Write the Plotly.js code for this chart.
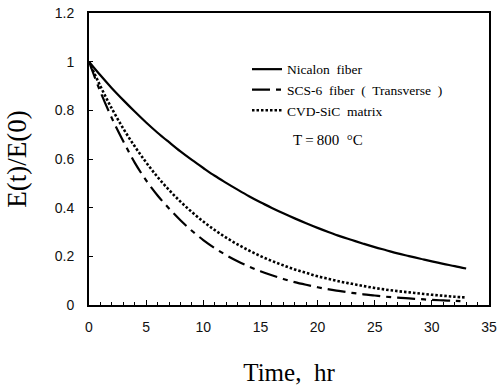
<!DOCTYPE html>
<html>
<head>
<meta charset="utf-8">
<script src="https://cdn.plot.ly/plotly-3.0.1.min.js"></script>
<style>html,body{margin:0;padding:0;background:#fff;}#chart{width:497px;height:387px;}</style>
</head>
<body>
<div id="chart"></div>
<script>
// Time (hr)
const timeHr = [0,1,2,3,4,5,6,7,8,9,10,11,12,13,14,15,16,17,18,19,20,21,22,23,24,25,26,27,28,29,30,31,32,33];
const timeDash = [0,1,2,3,4,5,6,7,8,9,10,11,12,13,14,15,16,17,18,19,20,21,22,23,24,25,26,27,28,29,30,31,32,32.5];
// E(t)/E(0)
const nicalon = [1.000,0.944,0.891,0.842,0.795,0.750,0.708,0.669,0.631,0.596,0.563,0.531,0.502,0.474,0.447,0.422,0.399,0.377,0.356,0.336,0.317,0.299,0.282,0.267,0.252,0.238,0.225,0.212,0.201,0.190,0.179,0.169,0.160,0.150];
const scs6 = [1.000,0.876,0.768,0.673,0.585,0.512,0.450,0.397,0.348,0.305,0.267,0.234,0.205,0.180,0.158,0.139,0.122,0.107,0.094,0.083,0.073,0.064,0.057,0.050,0.044,0.039,0.034,0.030,0.027,0.024,0.021,0.019,0.017,0.016];
const cvdSiC = [1.000,0.899,0.807,0.725,0.652,0.586,0.526,0.473,0.425,0.382,0.343,0.308,0.277,0.249,0.224,0.201,0.181,0.163,0.146,0.132,0.118,0.107,0.096,0.087,0.078,0.070,0.063,0.057,0.052,0.047,0.042,0.038,0.034,0.031];
const seriesNames = ["Nicalon\u00A0 fiber","SCS-6\u00A0 fiber\u00A0 (\u00A0 Transverse\u00A0 )","CVD-SiC\u00A0 matrix"];
const xTicks = [0,5,10,15,20,25,30,35];
const yTicks = [0,0.2,0.4,0.6,0.8,1,1.2];
const yTickText = ["0","0.2","0.4","0.6","0.8","1","1.2"];

const traces = [
  {x: timeHr, y: nicalon, name: seriesNames[0], mode: 'lines',
   line: {color: '#000', width: 2.2, shape: 'spline'}},
  {x: timeDash, y: scs6, name: seriesNames[1], mode: 'lines',
   line: {color: '#000', width: 2.2, dash: '18px,6px,5px,6px', shape: 'spline'}},
  {x: timeHr, y: cvdSiC, name: seriesNames[2], mode: 'lines',
   line: {color: '#000', width: 2.6, dash: '2.5px,2px', shape: 'spline'}}
];

const layout = {
  width: 497, height: 387,
  margin: {l: 89, r: 8, t: 13, b: 82},
  paper_bgcolor: '#fff', plot_bgcolor: '#fff',
  showlegend: true,
  legend: {x: 0.395, y: 0.86, xanchor: 'left', yanchor: 'top',
    bgcolor: 'rgba(0,0,0,0)', borderwidth: 0, tracegroupgap: 0,
    font: {family: 'Liberation Serif, serif', size: 13.5, color: '#000'},
    itemwidth: 30},
  xaxis: {range: [0, 35], tickvals: xTicks, ticks: 'inside', ticklen: 5,
    tickcolor: '#000', showgrid: false, zeroline: false,
    showline: true, linecolor: '#000', linewidth: 2, mirror: true,
    ticklabelstandoff: 8,
    minor: {dtick: 1, ticks: 'inside', ticklen: 3, tickcolor: '#000', showgrid: false},
    tickfont: {family: 'Liberation Sans, Arial, sans-serif', size: 14, color: '#111'},
    title: {text: 'Time,\u00A0\u00A0hr', standoff: 30,
      font: {family: 'Liberation Serif, serif', size: 25, color: '#000'}}},
  yaxis: {range: [0, 1.2], tickvals: yTicks, ticktext: yTickText, ticks: 'inside', ticklen: 4,
    tickcolor: '#000', showgrid: false, zeroline: false,
    showline: true, linecolor: '#000', linewidth: 2, mirror: true,
    ticklabelstandoff: 10,
    tickfont: {family: 'Liberation Sans, Arial, sans-serif', size: 14, color: '#111'},
    title: {text: 'E(t)/E(0)', standoff: 20,
      font: {family: 'Liberation Serif, serif', size: 27, color: '#000'}}},
  annotations: [
    {xref: 'paper', yref: 'paper', x: 0.505, y: 0.565, xanchor: 'left', yanchor: 'middle',
     showarrow: false, text: 'T\u2009=\u2009800\u00A0\u00A0\u00B0C',
     font: {family: 'Liberation Serif, serif', size: 15, color: '#000'}}
  ]
};

Plotly.newPlot('chart', traces, layout, {staticPlot: true, displayModeBar: false});
</script>
</body>
</html>
